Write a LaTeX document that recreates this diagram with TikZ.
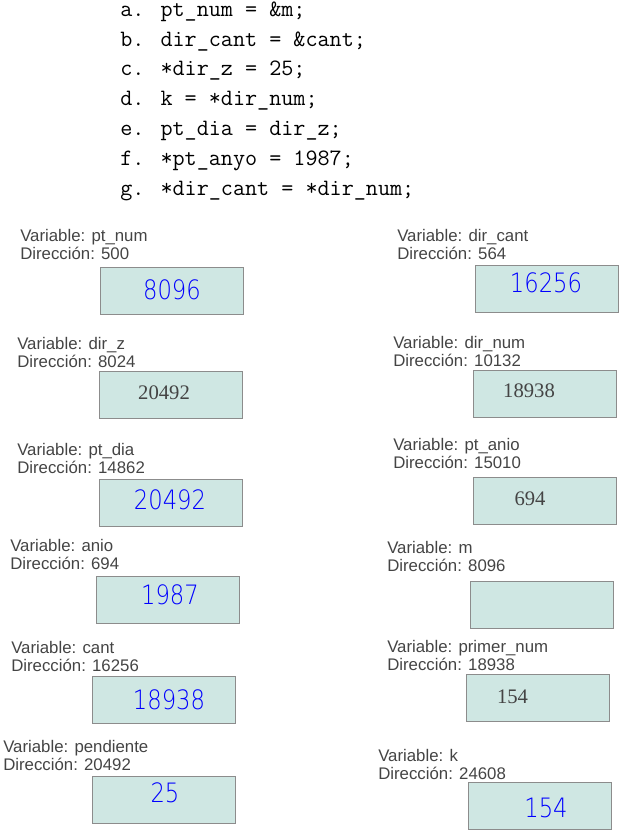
\documentclass[tikz,border=0pt]{standalone}
\usepackage{fontspec}
\setmainfont{Liberation Sans}
\newfontfamily\fuenteserif{Liberation Serif}
\newfontfamily\fuentelcd[FakeStretch=0.85]{DejaVuSans-ExtraLight.ttf}
\usetikzlibrary{positioning}
\definecolor{celdafondo}{RGB}{207,231,227}
\definecolor{celdaborde}{RGB}{140,140,140}
\definecolor{textogris}{RGB}{68,68,68}
\definecolor{azullcd}{RGB}{0,0,255}
\tikzset{
  codigo/.style={anchor=base west, inner sep=0pt, font=\ttfamily\fontsize{17.6}{20}\selectfont, text=black},
  etiqueta/.style={anchor=west, inner sep=0pt, align=left, font=\fontsize{12.6}{13.5}\selectfont, text=textogris},
  celda/.style={rectangle, draw=celdaborde, fill=celdafondo, line width=0.75pt, minimum width=107.25pt, minimum height=35.25pt, inner sep=0pt},
  lcd/.style={inner sep=0pt, font=\fuentelcd\fontsize{20}{20}\selectfont, text=azullcd},
  numero/.style={inner sep=0pt, font=\fuenteserif\fontsize{15.5}{16}\selectfont, text=textogris}
}

\begin{document}
\begin{tikzpicture}[x=0.75pt, y=-0.75pt]
        \useasboundingbox (0,0) rectangle (620,832);

        % Sentencias
        \node (sa) [codigo] at (120,16.5) {a. pt\_num = \&m;};
        \node (sb) [codigo] at (120,46) {b. dir\_cant = \&cant;};
        \node (sc) [codigo] at (120,75.5) {c. *dir\_z = 25;};
        \node (sd) [codigo] at (120,105) {d. k = *dir\_num;};
        \node (se) [codigo] at (120,135) {e. pt\_dia = dir\_z;};
        \node (sf) [codigo] at (120,165) {f. *pt\_anyo = 1987;};
        \node (sg) [codigo] at (120,195) {g. *dir\_cant = *dir\_num;};

        % Columna izquierda
        \node (etq_ptnum) [etiqueta] at (20,244) {Variable: pt\_num\\Dirección: 500};
        \node (cel_ptnum) [celda] at (172,291) {};
        \node (val_ptnum) [lcd] at (172,290) {8096};

        \node (etq_dirz) [etiqueta] at (17,352) {Variable: dir\_z\\Dirección: 8024};
        \node (cel_dirz) [celda] at (171,395) {};
        \node (val_dirz) [numero] at (164,392.5) {20492};

        \node (etq_ptdia) [etiqueta] at (17,458) {Variable: pt\_dia\\Dirección: 14862};
        \node (cel_ptdia) [celda] at (171,503) {};
        \node (val_ptdia) [lcd] at (170,500) {20492};

        \node (etq_anio) [etiqueta] at (10,554) {Variable: anio\\Dirección: 694};
        \node (cel_anio) [celda] at (168,600) {};
        \node (val_anio) [lcd] at (170,595) {1987};

        \node (etq_cant) [etiqueta] at (11,656.5) {Variable: cant\\Dirección: 16256};
        \node (cel_cant) [celda] at (164,700) {};
        \node (val_cant) [lcd] at (169,700) {18938};

        \node (etq_pend) [etiqueta] at (3,755.5) {Variable: pendiente\\Dirección: 20492};
        \node (cel_pend) [celda] at (164,800) {};
        \node (val_pend) [lcd] at (165,793) {25};

        % Columna derecha
        \node (etq_dircant) [etiqueta] at (397,244) {Variable: dir\_cant\\Dirección: 564};
        \node (cel_dircant) [celda] at (547,289) {};
        \node (val_dircant) [lcd] at (546,283) {16256};

        \node (etq_dirnum) [etiqueta] at (393,351) {Variable: dir\_num\\Dirección: 10132};
        \node (cel_dirnum) [celda] at (545,394) {};
        \node (val_dirnum) [numero] at (529,391) {18938};

        \node (etq_ptanio) [etiqueta] at (393,453) {Variable: pt\_anio\\Dirección: 15010};
        \node (cel_ptanio) [celda] at (545,501) {};
        \node (val_ptanio) [numero] at (530,499) {694};

        \node (etq_m) [etiqueta] at (387,556) {Variable: m\\Dirección: 8096};
        \node (cel_m) [celda] at (542,605) {};

        \node (etq_primer) [etiqueta] at (387,655.5) {Variable: primer\_num\\Dirección: 18938};
        \node (cel_primer) [celda] at (538,698) {};
        \node (val_primer) [numero] at (512.5,697) {154};

        \node (etq_k) [etiqueta] at (378,764) {Variable: k\\Dirección: 24608};
        \node (cel_k) [celda] at (540,806) {};
        \node (val_k) [lcd] at (546,808) {154};
\end{tikzpicture}
\end{document}
